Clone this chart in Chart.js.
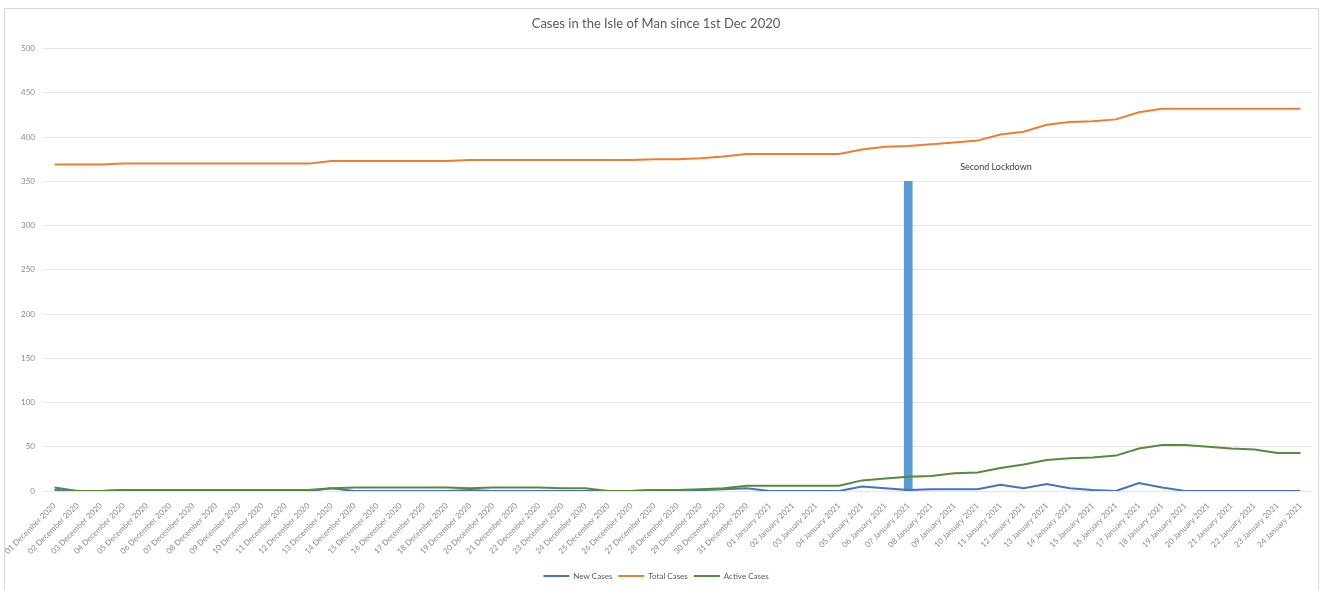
<!DOCTYPE html>
<html>
<head>
<meta charset="utf-8">
<script src="https://cdn.jsdelivr.net/npm/chart.js@4/dist/chart.umd.min.js"></script>
<style>
  html, body { margin: 0; padding: 0; background: #fff; }
  #frame {
    position: absolute; left: 4px; top: 8px; width: 1315px; height: 600px;
    border: 1px solid #d9d9d9; box-sizing: border-box;
  }
  #wrap { position: absolute; left: 0; top: 0; width: 1324px; height: 590px; }
</style>
</head>
<body>
<div id="frame"></div>
<div id="wrap"><canvas id="casesChart" width="1324" height="590"></canvas></div>
<script>
const days = [
  "01 December 2020", "02 December 2020", "03 December 2020", "04 December 2020",
  "05 December 2020", "06 December 2020", "07 December 2020", "08 December 2020",
  "09 December 2020", "10 December 2020", "11 December 2020", "12 December 2020",
  "13 December 2020", "14 December 2020", "15 December 2020", "16 December 2020",
  "17 December 2020", "18 December 2020", "19 December 2020", "20 December 2020",
  "21 December 2020", "22 December 2020", "23 December 2020", "24 December 2020",
  "25 December 2020", "26 December 2020", "27 December 2020", "28 December 2020",
  "29 December 2020", "30 December 2020", "31 December 2020",
  "01 January 2021", "02 January 2021", "03 January 2021", "04 January 2021",
  "05 January 2021", "06 January 2021", "07 January 2021", "08 January 2021",
  "09 January 2021", "10 January 2021", "11 January 2021", "12 January 2021",
  "13 January 2021", "14 January 2021", "15 January 2021", "16 January 2021",
  "17 January 2021", "18 January 2021", "19 January 2021", "20 January 2021",
  "21 January 2021", "22 January 2021", "23 January 2021", "24 January 2021"
];

const newCases = [
  1, 0, 0, 1, 0, 0, 0, 0, 0, 0, 0, 0, 3, 0, 0, 0, 0, 0, 1, 0,
  0, 0, 0, 0, 0, 0, 1, 0, 1, 2, 3, 0, 0, 0, 0, 5, 3, 1, 2, 2,
  2, 7, 3, 8, 3, 1, 0, 9, 4, 0, 0, 0, 0, 0, 0
];

const totalCases = [
  369, 369, 369, 370, 370, 370, 370, 370, 370, 370, 370, 370, 373, 373, 373, 373, 373, 373, 374, 374,
  374, 374, 374, 374, 374, 374, 375, 375, 376, 378, 381, 381, 381, 381, 381, 386, 389, 390, 392, 394,
  396, 403, 406, 414, 417, 418, 420, 428, 432, 432, 432, 432, 432, 432, 432
];

const activeCases = [
  4, 0, 0, 1, 1, 1, 1, 1, 1, 1, 1, 1, 3, 4, 4, 4, 4, 4, 3, 4,
  4, 4, 3, 3, 0, 0, 1, 1, 2, 3, 6, 6, 6, 6, 6, 12, 14, 16, 17, 20,
  21, 26, 30, 35, 37, 38, 40, 48, 52, 52, 50, 48, 47, 43, 43
];

// the marker bar for the second lockdown
const lockdownDay = "07 January 2021";
const lockdownHeight = 350;
const lockdownText = "Second Lockdown";

const lockdownBar = days.map(d => (d === lockdownDay ? lockdownHeight : null));

const lockdownLabelPlugin = {
  id: "lockdownLabel",
  afterDatasetsDraw(chart) {
    const { ctx, scales } = chart;
    const x = scales.x.getPixelForValue(days.indexOf(lockdownDay));
    const y = scales.y.getPixelForValue(366);
    ctx.save();
    ctx.fillStyle = "#404040";
    ctx.font = "9px Lato";
    ctx.textAlign = "left";
    ctx.textBaseline = "middle";
    ctx.fillText(lockdownText, x + 52, y);
    ctx.restore();
  }
};

const tickColor = "#8a8a8a";

new Chart(document.getElementById("casesChart"), {
  type: "line",
  data: {
    labels: days,
    datasets: [
      {
        type: "bar",
        label: lockdownText,
        data: lockdownBar,
        backgroundColor: "#5b9bd5",
        barThickness: 8,
        order: 10
      },
      {
        label: "New Cases",
        data: newCases,
        borderColor: "#4472c4",
        backgroundColor: "#4472c4",
        borderWidth: 2,
        pointRadius: 0,
        tension: 0,
        order: 1
      },
      {
        label: "Total Cases",
        data: totalCases,
        borderColor: "#ed7d31",
        backgroundColor: "#ed7d31",
        borderWidth: 2,
        pointRadius: 0,
        tension: 0,
        order: 2
      },
      {
        label: "Active Cases",
        data: activeCases,
        borderColor: "#588a3b",
        backgroundColor: "#588a3b",
        borderWidth: 2,
        pointRadius: 0,
        tension: 0,
        order: 0
      }
    ]
  },
  options: {
    responsive: false,
    animation: false,
    layout: { padding: { left: 0, right: 12, top: 0, bottom: 0 } },
    plugins: {
      title: {
        display: true,
        text: "Cases in the Isle of Man since 1st Dec 2020",
        color: "#595959",
        font: { family: "Lato", size: 13, weight: "normal" },
        padding: { top: 16, bottom: 17 }
      },
      legend: {
        position: "bottom",
        labels: {
          filter: item => item.text !== lockdownText,
          sort: (a, b) => a.datasetIndex - b.datasetIndex,
          usePointStyle: true,
          pointStyle: "line",
          pointStyleWidth: 26,
          boxHeight: 8,
          padding: 6,
          color: "#595959",
          font: { family: "Lato", size: 8 }
        }
      },
      tooltip: { enabled: false }
    },
    scales: {
      x: {
        offset: true,
        grid: { display: false },
        border: { display: false },
        ticks: {
          autoSkip: false,
          minRotation: 45,
          maxRotation: 45,
          color: tickColor,
          padding: 2,
          font: { family: "Lato", size: 8 }
        },
        afterFit(scale) { scale.height = 75; }
      },
      y: {
        min: 0,
        max: 500,
        grid: { color: "#e6e6e6", drawTicks: false },
        border: { display: false },
        ticks: {
          stepSize: 50,
          color: tickColor,
          padding: 8,
          font: { family: "Lato", size: 8 }
        },
        afterFit(scale) { scale.width = 43; }
      }
    }
  },
  plugins: [lockdownLabelPlugin]
});
</script>
</body>
</html>
